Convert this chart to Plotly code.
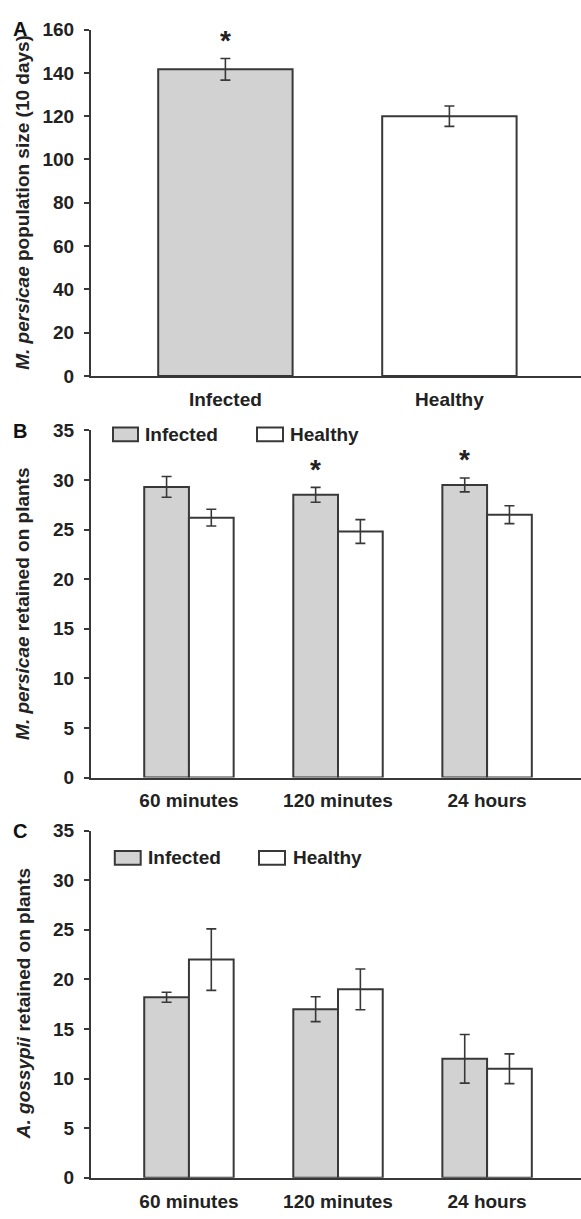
import plotly.graph_objects as go

# ---------------- data ----------------
groups_a = ["Infected", "Healthy"]
pop_mean = [141.7, 120.0]
pop_err = [5.0, 4.7]
pop_sig = [True, False]

times = ["60 minutes", "120 minutes", "24 hours"]
series_names = ["Infected", "Healthy"]

mp_infected = [29.3, 28.5, 29.5]
mp_infected_err = [1.05, 0.75, 0.7]
mp_healthy = [26.2, 24.8, 26.5]
mp_healthy_err = [0.85, 1.2, 0.9]
mp_sig = [False, True, True]

ag_infected = [18.2, 17.0, 12.0]
ag_infected_err = [0.5, 1.25, 2.45]
ag_healthy = [22.0, 19.0, 11.0]
ag_healthy_err = [3.1, 2.05, 1.5]

yticks_a = [0, 20, 40, 60, 80, 100, 120, 140, 160]
yticks_bc = [0, 5, 10, 15, 20, 25, 30, 35]

# ---------------- style ----------------
W, H = 581, 1219
FONT = "Liberation Sans"
TXT = "#222222"
LINE = "#383838"
GREY = "#d2d2d2"
FILLS = [GREY, "white"]


def px_x(p):
    return p / W


def px_y(p):
    return 1 - p / H


fig = go.Figure()

# Panel A
fig.add_trace(go.Bar(
    x=groups_a, y=pop_mean,
    marker=dict(color=FILLS, line=dict(color=LINE, width=2)),
    error_y=dict(type="data", array=pop_err, color=LINE, thickness=1.6, width=5),
    showlegend=False, xaxis="x", yaxis="y"))

# Panel B
for name, vals, errs, fill in [(series_names[0], mp_infected, mp_infected_err, GREY),
                               (series_names[1], mp_healthy, mp_healthy_err, "white")]:
    fig.add_trace(go.Bar(
        x=times, y=vals, name=name,
        marker=dict(color=fill, line=dict(color=LINE, width=2)),
        error_y=dict(type="data", array=errs, color=LINE, thickness=1.6, width=5),
        showlegend=False, xaxis="x2", yaxis="y2"))

# Panel C
for name, vals, errs, fill in [(series_names[0], ag_infected, ag_infected_err, GREY),
                               (series_names[1], ag_healthy, ag_healthy_err, "white")]:
    fig.add_trace(go.Bar(
        x=times, y=vals, name=name,
        marker=dict(color=fill, line=dict(color=LINE, width=2)),
        error_y=dict(type="data", array=errs, color=LINE, thickness=1.6, width=5),
        showlegend=False, xaxis="x3", yaxis="y3"))

tickfont = dict(family=FONT, size=19, color=TXT, weight="bold")

xcommon = dict(showline=True, linecolor=LINE, linewidth=2, ticks="", showgrid=False,
               zeroline=False, tickfont=tickfont, type="category", domain=[px_x(91), 1],
               ticklabelstandoff=5)
ycommon = dict(showline=True, linecolor=LINE, linewidth=2, ticks="outside", ticklen=5,
               tickwidth=2, tickcolor=LINE, showgrid=False, zeroline=False,
               tickfont=tickfont, ticklabelstandoff=6)

dom_a = [px_y(372.3), px_y(20)]
dom_b = [px_y(781), px_y(427.7)]
dom_c = [px_y(1188.3), px_y(835)]

fig.update_layout(
    width=W, height=H,
    margin=dict(l=0, r=0, t=0, b=0),
    paper_bgcolor="white", plot_bgcolor="white",
    barmode="group", bargap=0.4, bargroupgap=0,
    font=dict(family=FONT, color=TXT),
    xaxis=dict(xcommon, anchor="y", range=[-0.6, 1.5875]),
    yaxis=dict(ycommon, anchor="x", domain=dom_a, range=[0, 160], tickvals=yticks_a),
    xaxis2=dict(xcommon, anchor="y2", range=[-0.657, 2.630]),
    yaxis2=dict(ycommon, anchor="x2", domain=dom_b, range=[0, 35], tickvals=yticks_bc),
    xaxis3=dict(xcommon, anchor="y3", range=[-0.657, 2.630]),
    yaxis3=dict(ycommon, anchor="x3", domain=dom_c, range=[0, 35], tickvals=yticks_bc),
)

annotations = []
shapes = []

# y-axis titles
titles = [
    ("<i>M. persicae</i> population size (10 days)", dom_a),
    ("<i>M. persicae</i> retained on plants", dom_b),
    ("<i>A. gossypii</i> retained on plants", dom_c),
]
for text, dom in titles:
    annotations.append(dict(text=text, xref="paper", yref="paper", x=px_x(23),
                            y=(dom[0] + dom[1]) / 2, textangle=-90, showarrow=False,
                            xanchor="center", yanchor="middle",
                            font=dict(family=FONT, size=19, color=TXT, weight="bold")))

# panel letters
for letter, ypx in [("A", 19), ("B", 428), ("C", 835)]:
    annotations.append(dict(text=letter, xref="paper", yref="paper", x=px_x(20), y=px_y(ypx),
                            showarrow=False, xanchor="center", yanchor="middle",
                            font=dict(family=FONT, size=20, color="#111111", weight="bold")))

# significance asterisks
STAR = dict(family=FONT, size=28, color=TXT, weight="bold")
for g, m, e, s in zip(groups_a, pop_mean, pop_err, pop_sig):
    if s:
        annotations.append(dict(text="*", x=g, y=m + e, xref="x", yref="y", showarrow=False,
                                yanchor="middle", yshift=18, font=STAR))
for i, (t, m, e, s) in enumerate(zip(times, mp_infected, mp_infected_err, mp_sig)):
    if s:
        annotations.append(dict(text="*", x=i - 0.15, y=m + e, xref="x2", yref="y2",
                                showarrow=False, yanchor="middle", yshift=18, font=STAR))

# legends (panels B and C)
for ycen, boxes in [(431.7, [(113, 138, 142.6), (257, 283, 288)]),
                    (862.7, [(114.8, 140.7, 145.6), (259, 285, 290.7)])]:
    for (x0, x1, tx), name, fill in zip(boxes, series_names, FILLS):
        shapes.append(dict(type="rect", xref="paper", yref="paper",
                           x0=px_x(x0), x1=px_x(x1), y0=px_y(ycen + 7), y1=px_y(ycen - 7),
                           fillcolor=fill, line=dict(color=LINE, width=2)))
        annotations.append(dict(text=name, xref="paper", yref="paper", x=px_x(tx),
                                y=px_y(ycen), xanchor="left", yanchor="middle", showarrow=False,
                                font=dict(family=FONT, size=19, color=TXT, weight="bold")))

fig.update_layout(annotations=annotations, shapes=shapes)

fig.write_html("out.html")
